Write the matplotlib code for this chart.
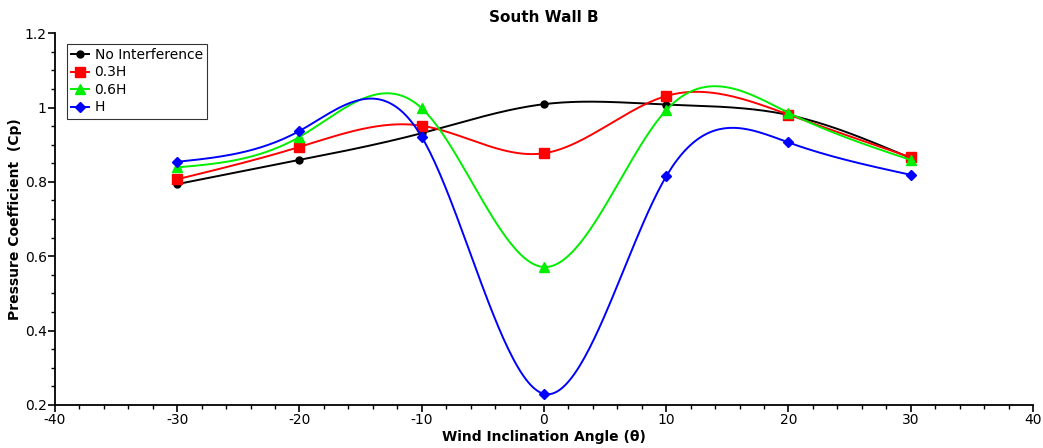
import numpy as np
import matplotlib
matplotlib.use("Agg")
import matplotlib.pyplot as plt
from matplotlib.ticker import MultipleLocator

angles = [-30, -20, -10, 0, 10, 20, 30]
no_interf = [0.794, 0.859, 0.931, 1.009, 1.008, 0.980, 0.864]
h03 = [0.807, 0.894, 0.951, 0.877, 1.031, 0.981, 0.866]
h06 = [0.839, 0.921, 0.998, 0.571, 0.993, 0.986, 0.859]
h10 = [0.854, 0.937, 0.921, 0.230, 0.815, 0.906, 0.819]


def spline(x, y, n=300):
    # natural cubic spline, like the "Spline" line style
    x = np.asarray(x, float)
    y = np.asarray(y, float)
    k = len(x)
    h = np.diff(x)
    A = np.zeros((k, k))
    b = np.zeros(k)
    A[0, 0] = A[-1, -1] = 1
    for i in range(1, k - 1):
        A[i, i - 1] = h[i - 1]
        A[i, i] = 2 * (h[i - 1] + h[i])
        A[i, i + 1] = h[i]
        b[i] = 6 * ((y[i + 1] - y[i]) / h[i] - (y[i] - y[i - 1]) / h[i - 1])
    M = np.linalg.solve(A, b)
    xs = np.linspace(x[0], x[-1], n)
    idx = np.clip(np.searchsorted(x, xs) - 1, 0, k - 2)
    x0, x1 = x[idx], x[idx + 1]
    hh = x1 - x0
    ys = (M[idx] * (x1 - xs) ** 3 / (6 * hh) + M[idx + 1] * (xs - x0) ** 3 / (6 * hh)
          + (y[idx] / hh - M[idx] * hh / 6) * (x1 - xs)
          + (y[idx + 1] / hh - M[idx + 1] * hh / 6) * (xs - x0))
    return xs, ys


plt.rcParams['font.family'] = ['DejaVu Sans']
plt.rcParams['axes.unicode_minus'] = False
fig = plt.figure(figsize=(10.43, 4.48), dpi=100)
ax = fig.add_axes([0.0527, 0.096, 0.9377, 0.830])

series = [
    (no_interf, 'black', 'o', 5, "No Interference"),
    (h03, 'red', 's', 7, "0.3H"),
    (h06, '#00ee00', '^', 7, "0.6H"),
    (h10, 'blue', 'D', 5, "H"),
]
for vals, c, m, ms, lab in series:
    xs, ys = spline(angles, vals)
    ax.plot(xs, ys, color=c, lw=1.4)
    ax.plot(angles, vals, linestyle='none', marker=m, color=c, ms=ms)
    ax.plot([], [], color=c, marker=m, ms=ms, lw=1.4, label=lab)

ax.set_xlim(-40, 40)
ax.set_ylim(0.2, 1.2)
ax.xaxis.set_major_locator(MultipleLocator(10))
ax.xaxis.set_minor_locator(MultipleLocator(2))
ax.yaxis.set_minor_locator(MultipleLocator(0.05))
ax.set_yticks([0.2, 0.4, 0.6, 0.8, 1.0, 1.2])
ax.set_yticklabels(['0.2', '0.4', '0.6', '0.8', '1', '1.2'])
ax.spines['top'].set_visible(False)
ax.spines['right'].set_visible(False)
ax.spines['left'].set_linewidth(1.3)
ax.spines['bottom'].set_linewidth(1.3)
ax.tick_params(which='major', length=5, width=1.2, labelsize=10, pad=1)
ax.tick_params(which='minor', length=3, width=1.0)

ax.set_title("South Wall B", fontsize=11, fontweight='bold', pad=8)
ax.set_xlabel("Wind Inclination Angle (θ)", fontsize=10, fontweight='bold', labelpad=2)
ax.set_ylabel("Pressure Coefficient  (Cp)", fontsize=10, fontweight='bold', labelpad=2)

leg = ax.legend(loc='upper left', fontsize=10, frameon=True, fancybox=False,
                borderpad=0.3, handlelength=1.3, handletextpad=0.4, labelspacing=0.25,
                bbox_to_anchor=(0.005, 0.99))
leg.get_frame().set_edgecolor('black')
leg.get_frame().set_linewidth(0.8)

fig.savefig("out.png", dpi=100)
